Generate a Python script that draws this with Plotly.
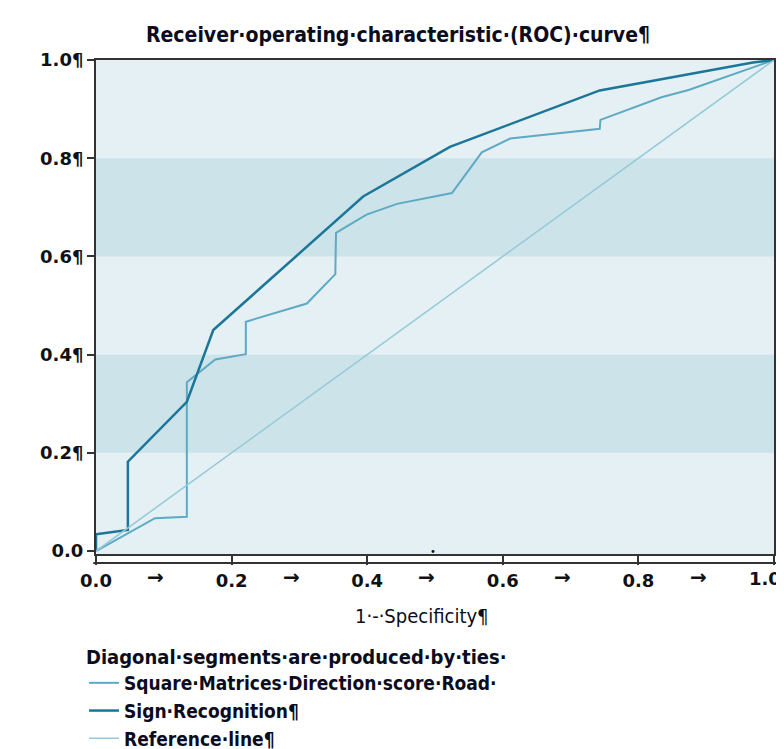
import plotly.graph_objects as go

# ---- data ----
sq_fpr = [0.0, 0.087, 0.134, 0.134, 0.176, 0.221, 0.221, 0.311, 0.353, 0.354, 0.399,
          0.444, 0.525, 0.569, 0.611, 0.743, 0.744, 0.834, 0.874, 1.0]
sq_tpr = [0.0, 0.067, 0.070, 0.344, 0.390, 0.401, 0.467, 0.504, 0.564, 0.648, 0.685,
          0.707, 0.729, 0.812, 0.840, 0.860, 0.878, 0.924, 0.939, 1.0]

sign_fpr = [0.0, 0.0, 0.047, 0.047, 0.134, 0.173, 0.394, 0.522, 0.743, 0.969, 1.0]
sign_tpr = [0.0, 0.034, 0.043, 0.182, 0.304, 0.450, 0.722, 0.823, 0.938, 0.995, 1.0]

ref_x = [0.0, 1.0]
ref_y = [0.0, 1.0]

tick_vals = [0.0, 0.2, 0.4, 0.6, 0.8, 1.0]
x_tick_text = ["0.0", "0.2", "0.4", "0.6", "0.8", ""]   # last label drawn as an edge-aligned note
last_x_label = "1.0"
y_tick_text = ["0.0", "0.2¶", "0.4¶", "0.6¶", "0.8¶", "1.0¶"]
arrow_pos = [0.088, 0.288, 0.488, 0.688, 0.888]
bands = [(0.2, 0.4), (0.6, 0.8)]

names = ["Square·Matrices·Direction·score·Road·", "Sign·Recognition¶", "Reference·line¶"]
title_text = "Receiver·operating·characteristic·(ROC)·curve¶"
xlab = "1·-·Specificity¶"
legend_title = "Diagonal·segments·are·produced·by·ties·"

NARROW = "DejaVu Sans Condensed, Liberation Sans Narrow, DejaVu Sans, sans-serif"
BOLD = "DejaVu Sans"
TXT = "#0c0c20"

# the page body adds an 8px offset; work in window pixels and shift
OFF = 8
W, H = 784 - OFF, 749 - OFF
PL, PR, PT, PB = 96 - OFF, 774 - OFF, 60 - OFF, 554 - OFF   # plot box in figure px
ML, MR, MT, MB = PL, W - PR, PT, H - PB
PH = PB - PT
PW = PR - PL


def py(win_px):
    """window pixel row -> paper y"""
    return (PB - (win_px - OFF)) / PH


def pxx(win_px):
    return ((win_px - OFF) - PL) / PW


tickfont = dict(family=BOLD, size=18, color="#111111", weight="bold")

fig = go.Figure()
fig.add_trace(go.Scatter(x=sq_fpr, y=sq_tpr, mode="lines", name=names[0],
                         line=dict(color="#5eaac4", width=2)))
fig.add_trace(go.Scatter(x=sign_fpr, y=sign_tpr, mode="lines", name=names[1],
                         line=dict(color="#1c7699", width=2.5)))
fig.add_trace(go.Scatter(x=ref_x, y=ref_y, mode="lines", name=names[2],
                         line=dict(color="#93c9d8", width=1.5)))

for lo, hi in bands:
    fig.add_shape(type="rect", xref="paper", yref="y", x0=0, x1=1, y0=lo, y1=hi,
                  fillcolor="#cde3ea", line_width=0, layer="below")

# second baseline under the x axis
fig.add_shape(type="line", xref="paper", yref="paper", x0=-0.004, x1=1.003,
              y0=py(563), y1=py(563), line=dict(color="#333333", width=2))

for a in arrow_pos:
    fig.add_annotation(x=a, y=py(577), xref="x", yref="paper", yanchor="middle",
                       text="→", showarrow=False,
                       font=dict(family=BOLD, size=20, color="#111111", weight="bold"))

# last x tick label, kept inside the window edge
fig.add_annotation(x=pxx(783), y=py(578), xref="paper", yref="paper", xanchor="right",
                   yanchor="middle", text=last_x_label, showarrow=False, font=tickfont)

# small formatting mark on the baseline
fig.add_annotation(x=0.497, y=py(551), xref="x", yref="paper", yanchor="middle",
                   text="•", showarrow=False, font=dict(family=BOLD, size=10, color="#111111"))

fig.add_annotation(x=pxx(422), y=py(616), xref="paper", yref="paper", yanchor="middle",
                   text=xlab, showarrow=False,
                   font=dict(family=NARROW, size=20, color=TXT))

fig.update_layout(
    width=W, height=H,
    margin=dict(l=ML, r=MR, t=MT, b=MB, autoexpand=False),
    paper_bgcolor="white",
    plot_bgcolor="#e4f0f4",
    title=dict(text=title_text, x=(398 - OFF) / W, xanchor="center",
               y=1 - (35 - OFF) / H, yanchor="middle",
               font=dict(family=NARROW, size=21, color=TXT, weight="bold")),
    showlegend=True,
    legend=dict(x=pxx(84), xanchor="left", y=py(638), yanchor="top",
                title=dict(text=legend_title,
                           font=dict(family=NARROW, size=20, color=TXT, weight="bold")),
                font=dict(family=NARROW, size=19, color=TXT, weight="bold"),
                bgcolor="rgba(0,0,0,0)", itemwidth=30, tracegroupgap=0),
    xaxis=dict(range=[0, 1], tickvals=tick_vals, ticktext=x_tick_text, automargin=False,
               ticklabeloverflow="allow",
               showgrid=False, zeroline=False, showline=True, mirror=True,
               linecolor="#333333", linewidth=2, ticks="outside", ticklen=9,
               tickwidth=2, tickcolor="#333333", tickfont=tickfont),
    yaxis=dict(range=[-0.006, 1.0], tickvals=tick_vals, ticktext=y_tick_text, automargin=False,
               showgrid=False, zeroline=False, showline=True, mirror=True,
               linecolor="#333333", linewidth=2, ticks="outside", ticklen=7,
               tickwidth=2, tickcolor="#333333", tickfont=tickfont),
)

fig.write_html("out.html")
